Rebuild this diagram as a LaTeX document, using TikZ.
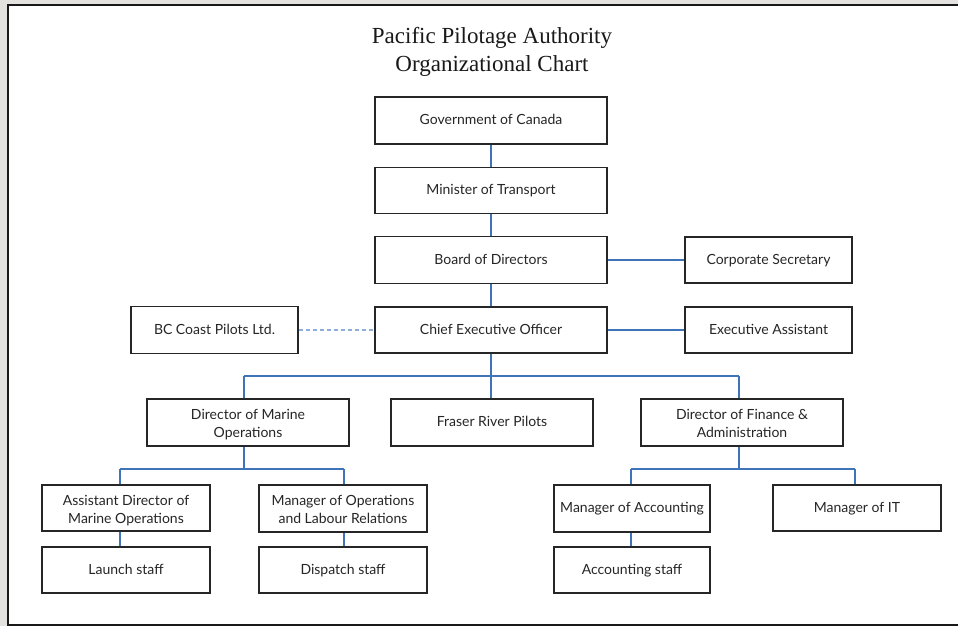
\documentclass[tikz,border=0pt]{standalone}
\usepackage{fontspec}
\setmainfont{Liberation Serif}
\newfontfamily\boxfont{Lato}
\definecolor{linkblue}{HTML}{3F74B8}
\definecolor{dashblue}{HTML}{8DAEDB}
\definecolor{backdrop}{HTML}{E4E2DF}
\begin{document}
\begin{tikzpicture}[x=1pt,y=-1pt,
  orgbox/.style={draw=black!85, line width=1.2pt, fill=white, inner sep=0pt,
    align=center, font=\boxfont\fontsize{14}{18}\selectfont, text=black!85},
  oneline/.style={orgbox, text height=10.5pt, text depth=2.5pt},
  twoline/.style={orgbox, text height=33pt, text depth=3pt},
  link/.style={draw=linkblue, line width=1.1pt},
  loose/.style={draw=dashblue, line width=1.1pt, dash pattern=on 4pt off 3pt}]
\useasboundingbox (0,0) rectangle (958,626);
% page backdrop and white sheet
\fill[backdrop] (0,0) rectangle (958,626);
\filldraw[fill=white, draw=black!90, line width=2pt] (7.5,5.5) rectangle (980,624.5);

% title
\node[font=\fontsize{23}{27.5}\selectfont, align=center, text=black!90] (title) at (492,52)
  {Pacific Pilotage Authority\\Organizational Chart};

% boxes
\node[oneline, minimum width=232pt, minimum height=47pt] (gov) at (491,120.5) {Government of Canada};
\node[oneline, minimum width=232pt, minimum height=46pt] (min) at (491,190.5) {Minister of Transport};
\node[oneline, minimum width=232pt, minimum height=47pt] (board) at (491,260) {Board of Directors};
\node[oneline, minimum width=167pt, minimum height=46pt] (corp) at (768.5,260) {Corporate Secretary};
\node[oneline, minimum width=232pt, minimum height=46pt] (ceo) at (491,330) {Chief Executive Officer};
\node[oneline, minimum width=167pt, minimum height=46pt] (exec) at (768.5,330) {Executive Assistant};
\node[oneline, minimum width=167pt, minimum height=47pt] (bccp) at (214.5,330) {BC Coast Pilots Ltd.};
\node[twoline, minimum width=202pt, minimum height=47pt] (dmo) at (248,422.5) {Director of Marine\\Operations};
\node[oneline, minimum width=202pt, minimum height=47pt] (frp) at (492,422.5) {Fraser River Pilots};
\node[twoline, minimum width=202pt, minimum height=47pt] (dfa) at (742,422.5) {Director of Finance \&\\Administration};
\node[twoline, minimum width=168pt, minimum height=46pt] (admo) at (126,508) {Assistant Director of\\Marine Operations};
\node[oneline, minimum width=168pt, minimum height=46pt] (launch) at (126,570) {Launch staff};
\node[twoline, minimum width=168pt, minimum height=47pt] (molr) at (343,508.5) {Manager of Operations\\and Labour Relations};
\node[oneline, minimum width=168pt, minimum height=46pt] (dispatch) at (343,570) {Dispatch staff};
\node[oneline, minimum width=156pt, minimum height=47pt] (macc) at (632,508.5) {Manager of Accounting};
\node[oneline, minimum width=156pt, minimum height=46pt] (accstaff) at (632,570) {Accounting staff};
\node[oneline, minimum width=168pt, minimum height=46pt] (mit) at (857,508) {Manager of IT};

% branch points of the buses
\coordinate (ceobus) at (491,376);
\coordinate (dmotap) at (244,376);
\coordinate (dfatap) at (739,376);
\coordinate (mobus) at (244,469);
\coordinate (admotap) at (120,469);
\coordinate (molrtap) at (344,469);
\coordinate (fabus) at (739,469);
\coordinate (macctap) at (631,469);
\coordinate (mittap) at (855,469);

% chain of command
\draw[link] (gov) -- (min);
\draw[link] (min) -- (board);
\draw[link] (board) -- (corp);
\draw[link] (board) -- (ceo);
\draw[link] (ceo) -- (exec);
\draw[loose] (bccp) -- (ceo);

% CEO reports
\draw[link] (ceo.south) -- (ceobus);
\draw[link] (dmotap) -- (dfatap);
\draw[link] (dmotap) -- (dmotap |- dmo.north);
\draw[link] (ceobus) -- (ceobus |- frp.north);
\draw[link] (dfatap) -- (dfatap |- dfa.north);

% marine operations
\draw[link] (mobus |- dmo.south) -- (mobus);
\draw[link] (admotap) -- (molrtap);
\draw[link] (admotap) -- (admotap |- admo.north);
\draw[link] (molrtap) -- (molrtap |- molr.north);
\draw[link] (admotap |- admo.south) -- (admotap |- launch.north);
\draw[link] (molrtap |- molr.south) -- (molrtap |- dispatch.north);

% finance and administration
\draw[link] (fabus |- dfa.south) -- (fabus);
\draw[link] (macctap) -- (mittap);
\draw[link] (macctap) -- (macctap |- macc.north);
\draw[link] (mittap) -- (mittap |- mit.north);
\draw[link] (macctap |- macc.south) -- (macctap |- accstaff.north);
\end{tikzpicture}
\end{document}
